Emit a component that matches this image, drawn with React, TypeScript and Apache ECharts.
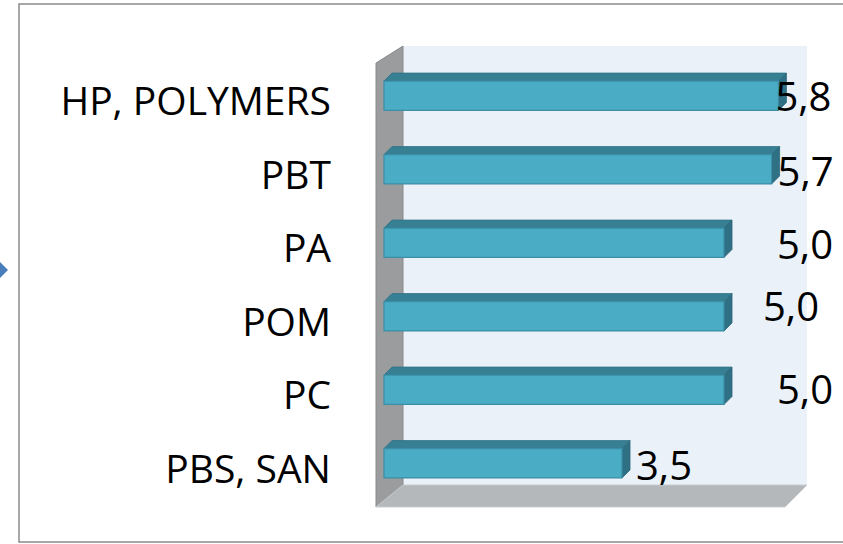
import React, { useEffect, useRef } from "react";
import * as echarts from "echarts";

const categories = ["HP, POLYMERS", "PBT", "PA", "POM", "PC", "PBS, SAN"];
const values = [5.8, 5.7, 5.0, 5.0, 5.0, 3.5];
const xMin = 0;
const xMax = 6;

// label nudges (styling only), [dx, dy] in px
const labelNudge: [number, number][] = [
  [-11, 0],
  [-2, 1],
  [45, 1],
  [31, -11],
  [45, -1],
  [6, 1],
];

const GRID = { left: 384, top: 59, width: 408, height: 441 };
const DEPTH_X = 8;
const DEPTH_Y = 8;

export default function App() {
  const ref = useRef<HTMLDivElement>(null);
  useEffect(() => {
    if (!ref.current) return;
    const chart = echarts.init(ref.current, null, { renderer: "svg" });
    const wallBackL = 403;
    const wallBackR = 807;
    const wallTop = 46;
    const wallBottom = 485;
    const frontL = 376;
    const frontBottom = 507;
    const frontTop = 63;
    const floorFrontR = 785;

    const option: any = {
      animation: false,
      grid: { left: GRID.left, top: GRID.top, width: GRID.width, height: GRID.height, containLabel: false },
      xAxis: {
        type: "value",
        min: xMin,
        max: xMax,
        show: false,
      },
      yAxis: {
        type: "category",
        data: categories,
        inverse: true,
        axisLine: { show: false },
        axisTick: { show: false },
        splitLine: { show: false },
        axisLabel: {
          margin: 53,
          color: "#000",
          formatter: (v: string) => "{c|" + v + "}",
          rich: {
            c: {
              fontFamily: "Open Sans",
              fontSize: 39,
              color: "#000",
              padding: [8, 0, 0, 0],
            },
          },
        },
      },
      graphic: [
        {
          type: "rect",
          z: 0,
          shape: { x: 19, y: 4, width: 840, height: 538 },
          style: { fill: "#fff", stroke: "#8a8a8a", lineWidth: 1.5 },
          silent: true,
        },
        {
          type: "polygon",
          z: 1,
          shape: { points: [[0, 262], [8, 270], [0, 278]] },
          style: { fill: "#4a7ebb" },
          silent: true,
        },
        {
          type: "rect",
          z: 1,
          shape: { x: wallBackL, y: wallTop, width: wallBackR - wallBackL, height: wallBottom - wallTop },
          style: { fill: "#eaf1f8" },
          silent: true,
        },
        {
          type: "polygon",
          z: 1,
          shape: {
            points: [
              [frontL, frontTop],
              [wallBackL, wallTop],
              [wallBackL, wallBottom],
              [frontL, frontBottom],
            ],
          },
          style: { fill: "#9b9c9d", stroke: "#8a8b8c", lineWidth: 1 },
          silent: true,
        },
        {
          type: "polygon",
          z: 1,
          shape: {
            points: [
              [frontL, frontBottom],
              [wallBackL, wallBottom],
              [wallBackR, wallBottom],
              [floorFrontR, frontBottom],
            ],
          },
          style: { fill: "#b4b8bb", stroke: "#c9ccce", lineWidth: 1 },
          silent: true,
        },
      ],
      series: [
        {
          type: "custom",
          z: 5,
          coordinateSystem: "cartesian2d",
          encode: { x: 0, y: 1 },
          data: values.map((v, i) => [v, i]),
          renderItem: (params: any, api: any) => {
            const v = api.value(0);
            const idx = api.value(1);
            const start = api.coord([0, idx]);
            const end = api.coord([v, idx]);
            const band = api.size([0, 1])[1];
            const h = band * 0.4;
            const x0 = start[0];
            const x1 = end[0];
            const y0 = start[1] - h / 2;
            const nudge = labelNudge[idx] || [0, 0];
            const label = v.toFixed(1).replace(".", ",");
            return {
              type: "group",
              children: [
                {
                  type: "polygon",
                  shape: {
                    points: [
                      [x0, y0],
                      [x0 + DEPTH_X, y0 - DEPTH_Y],
                      [x1 + DEPTH_X, y0 - DEPTH_Y],
                      [x1, y0],
                    ],
                  },
                  style: { fill: "#377f93", stroke: "#317488", lineWidth: 0.8 },
                },
                {
                  type: "polygon",
                  shape: {
                    points: [
                      [x1, y0],
                      [x1 + DEPTH_X, y0 - DEPTH_Y],
                      [x1 + DEPTH_X, y0 + h - DEPTH_Y],
                      [x1, y0 + h],
                    ],
                  },
                  style: { fill: "#2f7084", stroke: "#2a6679", lineWidth: 0.8 },
                },
                {
                  type: "rect",
                  shape: { x: x0, y: y0, width: x1 - x0, height: h },
                  style: { fill: "#4bacc6", stroke: "#3b8ea5", lineWidth: 1.2 },
                },
                {
                  type: "text",
                  x: x1 + DEPTH_X + nudge[0],
                  y: start[1] + nudge[1],
                  style: {
                    text: label,
                    fontFamily: "Open Sans",
                    fontSize: 40,
                    fill: "#000",
                    align: "left",
                    verticalAlign: "middle",
                  },
                },
              ],
            };
          },
        },
      ],
    };
    chart.setOption(option);
    return () => chart.dispose();
  }, []);
  return (
    <div
      ref={ref}
      style={{ position: "absolute", left: 0, top: 0, width: 843, height: 544 }}
    />
  );
}
